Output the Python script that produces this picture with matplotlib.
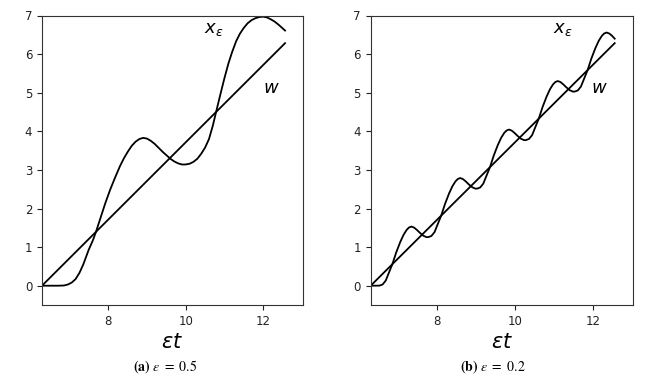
import matplotlib
matplotlib.use("Agg")
import matplotlib.pyplot as plt

# ---- data ----
# panel (a): epsilon = 0.5
a_t = [6.283, 6.50, 6.70, 6.85, 6.95, 7.05, 7.15, 7.25, 7.35, 7.49, 7.60, 7.68,
       7.80, 7.92, 8.05, 8.18, 8.30, 8.40, 8.50, 8.60, 8.70, 8.80, 8.90, 9.00,
       9.10, 9.20, 9.30, 9.40, 9.50, 9.60, 9.70, 9.80, 9.90, 9.99, 10.10, 10.20,
       10.30, 10.40, 10.50, 10.60, 10.70, 10.80, 10.90, 11.00, 11.10, 11.20,
       11.30, 11.40, 11.50, 11.60, 11.70, 11.80, 11.90, 12.00, 12.10, 12.20,
       12.30, 12.40, 12.50, 12.566]
a_x = [0.00, 0.00, 0.00, 0.005, 0.03, 0.08, 0.17, 0.33, 0.55, 0.93, 1.18, 1.40,
       1.77, 2.14, 2.50, 2.82, 3.10, 3.30, 3.47, 3.62, 3.73, 3.80, 3.83, 3.81,
       3.75, 3.67, 3.57, 3.47, 3.38, 3.29, 3.22, 3.17, 3.14, 3.14, 3.16, 3.21,
       3.29, 3.42, 3.58, 3.80, 4.15, 4.57, 4.98, 5.38, 5.75, 6.06,
       6.33, 6.53, 6.68, 6.80, 6.88, 6.93, 6.96, 6.97, 6.95, 6.90,
       6.84, 6.76, 6.67, 6.61]

# panel (b): epsilon = 0.2
b_t = [6.283, 6.510, 6.590, 6.670, 6.766, 6.842, 6.938, 7.042, 7.130, 7.210, 7.270,
       7.330, 7.400, 7.470, 7.550, 7.640, 7.720,
       7.767, 7.847, 7.927, 8.023, 8.099, 8.195, 8.299, 8.387, 8.467, 8.527,
       8.587, 8.657, 8.727, 8.807, 8.897, 8.977,
       9.023, 9.103, 9.183, 9.279, 9.355, 9.451, 9.555, 9.643, 9.723, 9.783,
       9.843, 9.913, 9.983, 10.063, 10.153, 10.233,
       10.280, 10.360, 10.440, 10.536, 10.612, 10.708, 10.812, 10.900, 10.980, 11.040,
       11.100, 11.170, 11.240, 11.320, 11.410, 11.490,
       11.537, 11.617, 11.697, 11.793, 11.869, 11.965, 12.069, 12.157, 12.237, 12.297,
       12.357, 12.427, 12.497, 12.566]
b_x = [0.000, 0.002, 0.032, 0.132, 0.372, 0.560, 0.856, 1.128, 1.320, 1.448, 1.508,
       1.532, 1.506, 1.448, 1.370, 1.294, 1.258,
       1.259, 1.289, 1.389, 1.629, 1.817, 2.113, 2.385, 2.577, 2.705, 2.765,
       2.789, 2.763, 2.705, 2.627, 2.551, 2.515,
       2.515, 2.545, 2.645, 2.885, 3.073, 3.369, 3.641, 3.833, 3.961, 4.021,
       4.045, 4.019, 3.961, 3.883, 3.807, 3.771,
       3.772, 3.802, 3.902, 4.142, 4.330, 4.626, 4.898, 5.090, 5.218, 5.278,
       5.302, 5.276, 5.218, 5.140, 5.064, 5.028,
       5.029, 5.059, 5.159, 5.399, 5.587, 5.883, 6.155, 6.347, 6.475, 6.535,
       6.559, 6.533, 6.475, 6.400]

# w: straight line
w_t = [6.283, 12.566]
w_x = [0.0, 6.283]

xticks = [8, 10, 12]
yticks = [0, 1, 2, 3, 4, 5, 6, 7]
captions = [r"$\mathbf{(a)}\ \epsilon\ =\ 0.5$", r"$\mathbf{(b)}\ \epsilon\ =\ 0.2$"]

fig = plt.figure(figsize=(6.49, 3.82), dpi=100)
W, H = 649, 382

def add_axes(left_px, right_px):
    top_px, bot_px = 15.5, 305
    return fig.add_axes([left_px / W, 1 - bot_px / H,
                         (right_px - left_px) / W, (bot_px - top_px) / H])

axA = add_axes(42, 303)
axB = add_axes(370.7, 632.7)

panels = [
    (axA, a_t, a_x, (10.72, 6.65), (12.2, 5.12), captions[0], 165),
    (axB, b_t, b_x, (11.22, 6.65), (12.18, 5.12), captions[1], 493),
]

for ax, t, x, xe_pos, w_pos, cap, cap_x in panels:
    ax.plot(t, x, color="black", lw=1.3, solid_joinstyle="round")
    ax.plot(w_t, w_x, color="black", lw=1.3)
    ax.set_xlim(6.283, 13.03)
    ax.set_ylim(-0.5, 7)
    ax.set_xticks(xticks)
    ax.set_yticks(yticks)
    ax.tick_params(labelsize=8.5, length=3.5, width=0.8, colors="#222222")
    for s in ax.spines.values():
        s.set_linewidth(0.8)
        s.set_color("#333333")
    ax.set_xlabel(r"$\varepsilon t$", fontsize=15, labelpad=3)
    ax.text(xe_pos[0], xe_pos[1], r"$x_\varepsilon$", fontsize=13,
            ha="center", va="center")
    ax.text(w_pos[0], w_pos[1], r"$w$", fontsize=13, ha="center", va="center")
    fig.text(cap_x / W, 1 - 367 / H, cap, fontsize=10, ha="center", va="center",
             math_fontfamily="stix")

fig.savefig("out.png", dpi=100)
